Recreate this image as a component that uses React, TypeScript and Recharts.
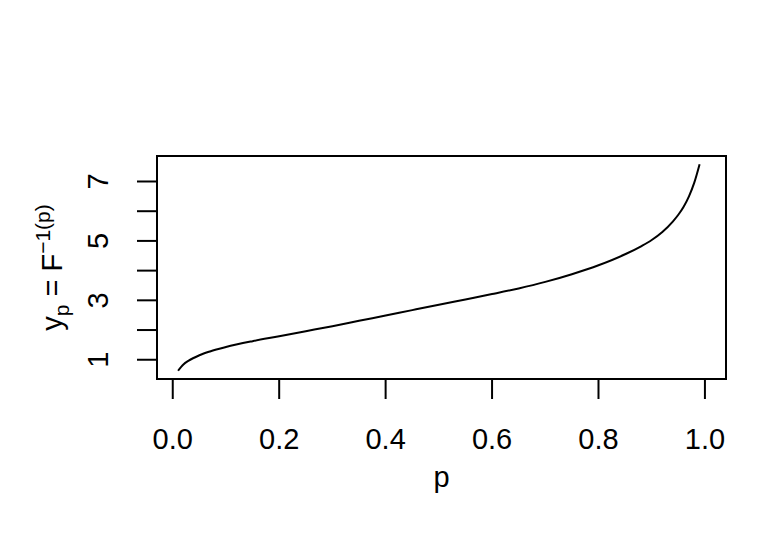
import React from "react";
import { LineChart, Line, XAxis, YAxis, ReferenceArea } from "recharts";

// quantile curve
const pValues = [
  0.01, 0.02, 0.03, 0.05, 0.07, 0.1, 0.15, 0.2, 0.25, 0.3, 0.35, 0.4, 0.45,
  0.5, 0.55, 0.6, 0.65, 0.7, 0.75, 0.8, 0.85, 0.88, 0.9, 0.92, 0.94, 0.95,
  0.96, 0.97, 0.98, 0.99,
];
const quantiles = [
  0.63, 0.84, 0.97, 1.15, 1.28, 1.43, 1.625, 1.79, 1.96, 2.13, 2.31, 2.49,
  2.67, 2.85, 3.03, 3.21, 3.4, 3.62, 3.88, 4.18, 4.55, 4.82, 5.03, 5.3, 5.66,
  5.88, 6.15, 6.5, 6.96, 7.58,
];
const xTicks = [0, 0.2, 0.4, 0.6, 0.8, 1.0];
const yTicks = [1, 2, 3, 4, 5, 6, 7];
const yLabelled = [1, 3, 5, 7];
const xDomain: [number, number] = [-0.0296, 1.0396];
const yDomain: [number, number] = [0.352, 7.858];

const data = pValues.map((p, i) => ({ p, y: quantiles[i] }));

const FONT = '"Liberation Sans", Arial, Helvetica, sans-serif';
const FS = 29;

function YTick(props: any) {
  const { x, y, payload } = props;
  if (!yLabelled.includes(payload.value)) return <g />;
  return (
    <text
      x={x}
      y={y}
      transform={`rotate(-90, ${x}, ${y})`}
      textAnchor="middle"
      fontFamily={FONT}
      fontSize={FS}
      fill="#000"
    >
      {payload.value}
    </text>
  );
}

function YTitle(props: any) {
  const vb = props.viewBox;
  const x = vb.x + 62;
  const y = vb.y + vb.height / 2;
  return (
    <text
      x={x}
      y={y}
      transform={`rotate(-90, ${x}, ${y})`}
      textAnchor="middle"
      fontFamily={FONT}
      fontSize={FS}
      fill="#000"
    >
      <tspan>y</tspan>
      <tspan fontSize={21} dy={7}>p</tspan>
      <tspan dy={-7}>{" = "}</tspan>
      <tspan>F</tspan>
      <tspan fontSize={21} dy={-12}>{"\u22121(p)"}</tspan>
    </text>
  );
}

function XTitle(props: any) {
  const vb = props.viewBox;
  return (
    <text
      x={vb.x + vb.width / 2}
      y={vb.y + 108}
      textAnchor="middle"
      fontFamily={FONT}
      fontSize={FS}
      fill="#000"
    >
      p
    </text>
  );
}

export default function App() {
  return (
    <div style={{ position: "absolute", left: 0, top: 0, background: "#fff" }}>
      <LineChart
        width={768}
        height={537}
        data={data}
        margin={{ top: 156, right: 42, bottom: 0, left: 0 }}
      >
        <XAxis
          dataKey="p"
          type="number"
          domain={xDomain}
          allowDataOverflow
          ticks={xTicks}
          interval={0}
          height={158}
          tickSize={20}
          tickMargin={29}
          tickFormatter={(v: number) => v.toFixed(1)}
          tick={{ fill: "#000", fontSize: FS, fontFamily: FONT }}
          tickLine={{ stroke: "#000", strokeWidth: 2 }}
          axisLine={false}
          label={{ content: XTitle }}
        />
        <YAxis
          type="number"
          domain={yDomain}
          allowDataOverflow
          ticks={yTicks}
          interval={0}
          width={157}
          tickSize={20}
          tickMargin={29}
          tick={<YTick />}
          tickLine={{ stroke: "#000", strokeWidth: 2 }}
          axisLine={false}
          label={{ content: YTitle }}
        />
        <ReferenceArea
          x1={xDomain[0]}
          x2={xDomain[1]}
          y1={yDomain[0]}
          y2={yDomain[1]}
          ifOverflow="visible"
          fill="none"
          stroke="#000"
          strokeWidth={2}
        />
        <Line
          type="monotone"
          dataKey="y"
          stroke="#000"
          strokeWidth={2}
          dot={false}
          isAnimationActive={false}
        />
      </LineChart>
    </div>
  );
}
